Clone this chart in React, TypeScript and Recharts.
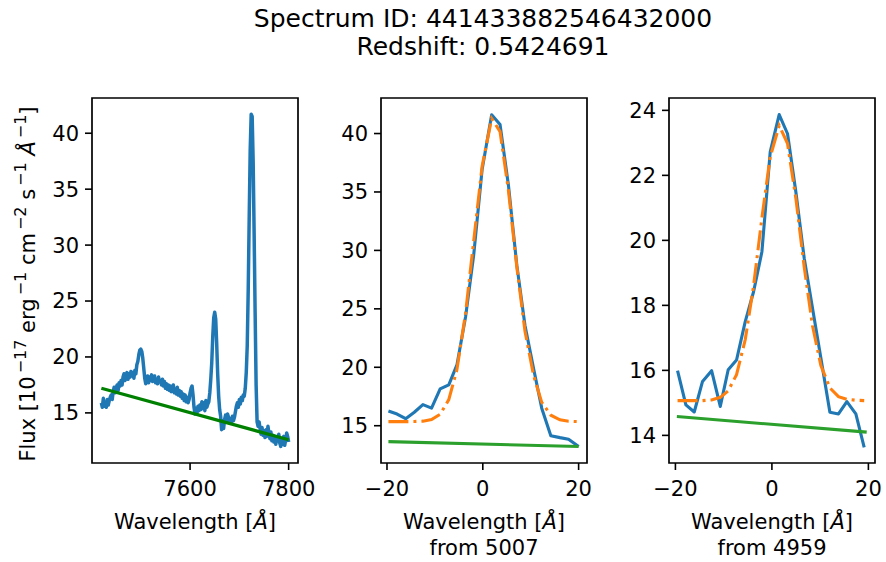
import React from 'react';
import { LineChart, Line, XAxis, YAxis, ReferenceArea } from 'recharts';

// full spectrum, observed frame, 2 A bins starting at 7420
const specStart = 7420;
const specStep = 2;
const specFlux = [
  15.9, 15.5, 16.3, 15.6, 15.8, 15.5, 16.2, 15.7, 16.1, 16.4,
  16.6, 16.2, 16.9, 17.3, 16.8, 17.2, 17.5, 17.0, 17.7, 17.4,
  17.9, 17.5, 18.2, 18.5, 17.9, 18.3, 18.6, 18.0, 18.5, 18.2,
  18.7, 18.3, 18.6, 18.1, 18.8, 18.5, 19.3, 19.6, 20.2, 20.6,
  20.7, 20.5, 19.9, 19.0, 18.1, 17.6, 17.9, 18.3, 17.7, 18.2,
  17.9, 18.4, 17.8, 18.1, 18.3, 17.7, 18.0, 17.6, 18.2, 17.8,
  17.9, 17.5, 18.0, 17.4, 17.8, 17.2, 17.6, 17.1, 17.5, 17.0,
  17.4, 16.9, 17.2, 17.5, 16.8, 17.1, 16.7, 17.3, 16.6, 17.0,
  16.5, 16.9, 16.3, 16.7, 16.1, 16.6, 16.0, 16.4, 15.9, 16.2,
  16.8, 17.2, 17.4, 16.6, 15.5, 14.9, 15.4, 15.0, 15.6, 15.2,
  15.7, 15.3, 16.0, 15.4, 15.9, 15.2, 16.1, 15.5, 15.8, 16.0,
  16.8, 18.0, 19.5, 21.8, 23.5, 24.0, 23.4, 21.2, 18.5, 16.5,
  15.3, 14.7, 13.5, 14.3, 13.6, 14.4, 14.8, 14.3, 14.9, 14.6,
  14.1, 14.5, 14.2, 14.7, 14.3, 14.6, 15.1, 15.6, 15.9, 15.5,
  16.2, 15.8, 16.4, 16.1, 16.6, 16.5, 17.2, 18.6, 21.0, 26.0,
  32.5, 38.5, 41.7, 41.5, 37.5, 31.0, 24.0, 17.5, 14.2, 13.8,
  14.2, 13.6, 13.1, 13.7, 13.0, 13.4, 12.8, 13.5, 12.9, 13.8,
  13.2, 12.7, 13.3, 12.5, 13.0, 12.4, 12.9, 12.2, 12.8, 12.5,
  13.1, 12.3, 12.0, 12.7, 12.2, 12.9, 12.1, 12.6, 13.2, 12.9,
  12.4,
];
const specContWave = [7420, 7800];
const specContFlux = [17.2, 12.6];

// [OIII] 5007
const o5007Offset = [-19.7, -17.9, -16.1, -14.3, -12.5, -10.7, -8.9, -7.1, -5.4, -3.6, -1.9, -0.15, 1.85, 3.6, 5.35, 7.1, 8.8, 10.6, 12.3, 14.2, 16.1, 17.9, 20.0];
const o5007Flux = [16.26, 16.0, 15.6, 16.15, 16.8, 16.5, 18.15, 18.5, 20.2, 24.3, 29.6, 36.9, 41.6, 40.77, 35.58, 28.74, 23.6, 19.9, 16.5, 14.15, 13.98, 13.85, 13.22];
const o5007Fit = [15.35, 15.35, 15.35, 15.36, 15.39, 15.52, 15.98, 17.23, 19.81, 24.62, 30.8, 37.18, 41.29, 40.17, 35.14, 28.6, 23.1, 19.3, 17.0, 15.9, 15.5, 15.38, 15.35];
const o5007ContOffset = [-19.7, 20.0];
const o5007Cont = [13.64, 13.22];

// [OIII] 4959
const o4959Offset = [-19.56, -17.83, -16.1, -14.38, -12.5, -10.7, -9.06, -7.33, -5.53, -3.8, -2.07, -0.35, 1.51, 3.24, 4.97, 6.7, 8.42, 10.15, 12.02, 13.8, 15.54, 17.4, 19.13];
const o4959Flux = [15.99, 14.94, 14.72, 15.66, 15.99, 14.89, 16.02, 16.32, 17.5, 18.42, 19.65, 22.72, 23.87, 23.28, 21.49, 19.45, 17.91, 16.38, 14.71, 14.66, 15.04, 14.66, 13.63];
const o4959Fit = [15.07, 15.07, 15.07, 15.07, 15.09, 15.17, 15.37, 15.87, 16.94, 18.6, 20.69, 22.57, 23.53, 22.98, 21.29, 19.18, 17.37, 16.15, 15.46, 15.19, 15.11, 15.08, 15.07];
const o4959ContOffset = [-19.7, 19.65];
const o4959Cont = [14.58, 14.1];

const zip = (xs: number[], ys: number[]) => xs.map((x, i) => ({ x, y: ys[i] }));

const FONT = '"DejaVu Sans", sans-serif';
const fmt = (v: number) => (v < 0 ? '\u2212' + Math.abs(v) : String(v));

interface PanelProps {
  left: number;
  xDomain: [number, number];
  xTicks: number[];
  yDomain: [number, number];
  yTicks: number[];
  children: React.ReactNode;
}

const Panel = ({ left, xDomain, xTicks, yDomain, yTicks, children }: PanelProps) => {
  const tick = { fontSize: 21, fill: '#000', fontFamily: FONT };
  const tl = { stroke: '#000', strokeWidth: 1.6 };
  return (
    <div style={{ position: 'absolute', left, top: 0 }}>
      <LineChart width={326} height={562} margin={{ top: 98, right: 40, bottom: 69, left: 0 }}>
        <XAxis type="number" dataKey="x" domain={xDomain} ticks={xTicks} allowDataOverflow
          tick={tick} tickFormatter={fmt} tickSize={7} tickMargin={11} height={30}
          axisLine={false} tickLine={tl} />
        <YAxis type="number" dataKey="y" domain={yDomain} ticks={yTicks} allowDataOverflow
          tick={tick} tickFormatter={fmt} tickSize={7} tickMargin={6} width={80}
          axisLine={false} tickLine={tl} />
        {children}
        <ReferenceArea x1={xDomain[0]} x2={xDomain[1]} y1={yDomain[0]} y2={yDomain[1]}
          fill="none" fillOpacity={0} stroke="#000" strokeWidth={1.7} ifOverflow="visible" />
      </LineChart>
    </div>
  );
};

const blue = '#1f77b4';
const orange = '#ff7f0e';

export default function App() {
  const spec = zip(specFlux.map((_, i) => specStart + i * specStep), specFlux);
  const sup = (s: string) => <tspan dy={-9} dx={3} fontSize={16}>{s}</tspan>;
  return (
    <div style={{ position: 'absolute', left: 0, top: 0, width: 886, height: 562, background: '#fff', fontFamily: FONT }}>
      <Panel left={12} xDomain={[7401, 7819]} xTicks={[7600, 7800]} yDomain={[10.52, 43.15]} yTicks={[15, 20, 25, 30, 35, 40]}>
        <Line data={spec} dataKey="y" stroke={blue} strokeWidth={3.5} dot={false} isAnimationActive={false} strokeLinejoin="round" />
        <Line data={zip(specContWave, specContFlux)} dataKey="y" stroke="#008000" strokeWidth={3.3} dot={false} isAnimationActive={false} />
      </Panel>
      <Panel left={301} xDomain={[-21.25, 21.75]} xTicks={[-20, 0, 20]} yDomain={[11.81, 43.04]} yTicks={[15, 20, 25, 30, 35, 40]}>
        <Line data={zip(o5007Offset, o5007Flux)} dataKey="y" stroke={blue} strokeWidth={3.1} dot={false} isAnimationActive={false} strokeLinejoin="round" />
        <Line data={zip(o5007Offset, o5007Fit)} dataKey="y" stroke={orange} strokeWidth={3.1} strokeDasharray="20 5 3 5" dot={false} isAnimationActive={false} />
        <Line data={zip(o5007ContOffset, o5007Cont)} dataKey="y" stroke="#2ca02c" strokeWidth={3.1} dot={false} isAnimationActive={false} />
      </Panel>
      <Panel left={589} xDomain={[-21.33, 21.37]} xTicks={[-20, 0, 20]} yDomain={[13.15, 24.38]} yTicks={[14, 16, 18, 20, 22, 24]}>
        <Line data={zip(o4959Offset, o4959Flux)} dataKey="y" stroke={blue} strokeWidth={3.1} dot={false} isAnimationActive={false} strokeLinejoin="round" />
        <Line data={zip(o4959Offset, o4959Fit)} dataKey="y" stroke={orange} strokeWidth={3.1} strokeDasharray="20 5 3 5" dot={false} isAnimationActive={false} />
        <Line data={zip(o4959ContOffset, o4959Cont)} dataKey="y" stroke="#2ca02c" strokeWidth={3.1} dot={false} isAnimationActive={false} />
      </Panel>
      <svg width={886} height={562} style={{ position: 'absolute', left: 0, top: 0, pointerEvents: 'none' }} fontFamily={FONT} fill="#000">
        <text x={483} y={27} fontSize={25} textAnchor="middle">Spectrum ID: 441433882546432000</text>
        <text x={483} y={55} fontSize={25} textAnchor="middle">Redshift: 0.5424691</text>
        <text x={195} y={529} fontSize={21} textAnchor="middle">Wavelength [<tspan fontStyle="italic">Å</tspan>]</text>
        <text x={484} y={529} fontSize={21} textAnchor="middle">Wavelength [<tspan fontStyle="italic">Å</tspan>]</text>
        <text x={484} y={555} fontSize={21} textAnchor="middle">from 5007</text>
        <text x={772} y={529} fontSize={21} textAnchor="middle">Wavelength [<tspan fontStyle="italic">Å</tspan>]</text>
        <text x={772} y={555} fontSize={21} textAnchor="middle">from 4959</text>
        <text transform="translate(35 284) rotate(-90)" fontSize={21} textAnchor="middle">
          Flux [10{sup('−17')}
          <tspan dy={9}> erg</tspan>{sup('−1')}
          <tspan dy={9}> cm</tspan>{sup('−2')}
          <tspan dy={9}> s</tspan>{sup('−1')}
          <tspan dy={9}> </tspan><tspan fontStyle="italic">Å</tspan>{sup('−1')}
          <tspan dy={9}>]</tspan>
        </text>
      </svg>
    </div>
  );
}
